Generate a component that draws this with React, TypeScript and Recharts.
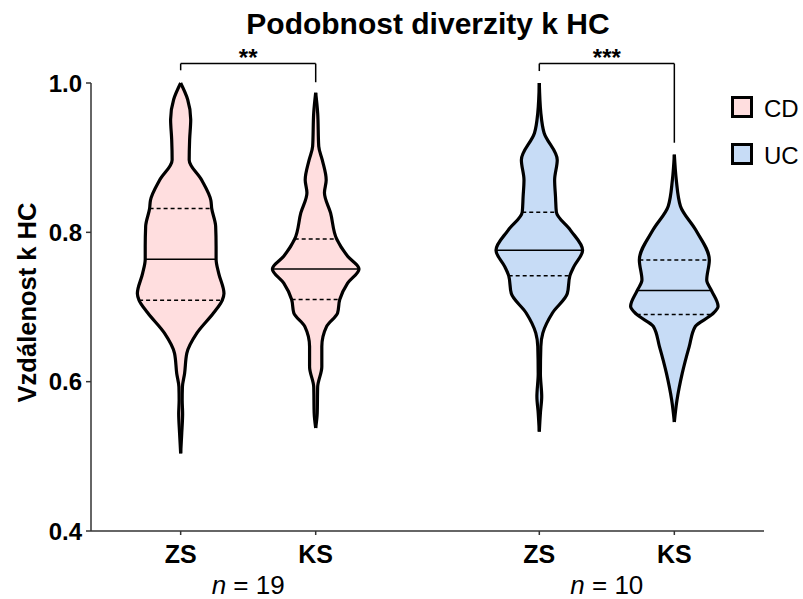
import React from 'react';
import { ComposedChart, Area, XAxis, YAxis, ReferenceLine, Legend } from 'recharts';

const FONT = '"Liberation Sans", Arial, Helvetica, sans-serif';

// Groups and categories
const GROUPS = ['CD', 'UC'];
const GROUP_N = [19, 10];
const CATEGORIES = ['ZS', 'KS', 'ZS', 'KS'];
const Y_TICKS = [0.4, 0.6, 0.8, 1.0];

// Violin outlines: distance to HC and relative density (1 = widest point)
const CD_ZS_Y = [1.0, 0.978, 0.951, 0.924, 0.897, 0.87, 0.843, 0.832, 0.808, 0.781, 0.764, 0.745, 0.718, 0.709, 0.692, 0.665, 0.638, 0.611, 0.593, 0.575, 0.557, 0.531, 0.504];
const CD_ZS_D = [0, 0.16, 0.23, 0.205, 0.195, 0.48, 0.69, 0.71, 0.8, 0.81, 0.81, 0.87, 0.99, 0.95, 0.75, 0.37, 0.14, 0.09, 0.04, 0.035, 0.045, 0.025, 0];

const CD_KS_Y = [0.987, 0.96, 0.915, 0.897, 0.87, 0.853, 0.826, 0.791, 0.768, 0.751, 0.732, 0.71, 0.692, 0.674, 0.647, 0.62, 0.593, 0.558, 0.538];
const CD_KS_D = [0, 0.045, 0.07, 0.15, 0.24, 0.2, 0.34, 0.48, 0.73, 0.99, 0.73, 0.55, 0.5, 0.25, 0.14, 0.14, 0.045, 0.035, 0];

const UC_ZS_Y = [1.0, 0.96, 0.933, 0.897, 0.87, 0.848, 0.827, 0.803, 0.776, 0.754, 0.742, 0.718, 0.692, 0.665, 0.647, 0.611, 0.58, 0.558, 0.533];
const UC_ZS_D = [0, 0.035, 0.11, 0.41, 0.35, 0.37, 0.39, 0.71, 0.99, 0.79, 0.7, 0.64, 0.3, 0.08, 0.035, 0.025, 0.055, 0.025, 0];

const UC_KS_Y = [0.904, 0.87, 0.835, 0.803, 0.763, 0.736, 0.722, 0.701, 0.69, 0.674, 0.647, 0.611, 0.575, 0.546];
const UC_KS_D = [0, 0.045, 0.14, 0.49, 0.8, 0.74, 0.85, 1.0, 0.86, 0.48, 0.34, 0.18, 0.06, 0];

// Quartiles [Q1, median, Q3]
const CD_ZS_Q = [0.709, 0.764, 0.832];
const CD_KS_Q = [0.71, 0.751, 0.791];
const UC_ZS_Q = [0.742, 0.776, 0.827];
const UC_KS_Q = [0.69, 0.722, 0.763];

// Significance brackets
const SIG_LABELS = ['**', '***'];
const SIG_TOP = [1.026, 1.026];
const SIG_ENDS = [[1.017, 1.001], [1.016, 0.92]];

const PINK = '#FFDEDF';
const BLUE = '#C7DCF6';
const GROUP_COLORS = [PINK, BLUE];

// layout of the category axis
const CATEGORY_POS = [1, 2, 3.656, 4.656];
const GROUP_POS = [1.5, 4.156];
const X_DOMAIN = [0.336, 5.32];
const HALF_WIDTH = 0.324;

const VIOLINS = [
  { pos: CATEGORY_POS[0], ys: CD_ZS_Y, dens: CD_ZS_D, q: CD_ZS_Q, fill: PINK },
  { pos: CATEGORY_POS[1], ys: CD_KS_Y, dens: CD_KS_D, q: CD_KS_Q, fill: PINK },
  { pos: CATEGORY_POS[2], ys: UC_ZS_Y, dens: UC_ZS_D, q: UC_ZS_Q, fill: BLUE },
  { pos: CATEGORY_POS[3], ys: UC_KS_Y, dens: UC_KS_D, q: UC_KS_Q, fill: BLUE },
];

const NTick = (props: any) => {
  const { x, y, payload } = props;
  const i = GROUP_POS.indexOf(payload.value);
  return (
    <text x={x} y={y + 24.5} textAnchor="middle" fontSize={26} fontFamily={FONT} fill="#000">
      <tspan fontStyle="italic">n</tspan> = {GROUP_N[i]}
    </text>
  );
};

const renderLegend = () => (
  <div style={{ fontFamily: FONT }}>
    {GROUPS.map((g, i) => (
      <div key={g} style={{ display: 'flex', alignItems: 'center', height: 22, marginBottom: 24.6 }}>
        <div style={{ width: 16, height: 16, border: '3px solid #000', background: GROUP_COLORS[i] }} />
        <span style={{ marginLeft: 11, fontSize: 24, color: '#000', position: 'relative', top: 2 }}>{g}</span>
      </div>
    ))}
  </div>
);

const renderYLabel = (props: any) => {
  const vb = props.viewBox;
  const cx = vb.x + 27;
  const cy = vb.y + vb.height / 2 - 4.5;
  return (
    <text
      x={cx}
      y={cy}
      transform={`rotate(-90, ${cx}, ${cy})`}
      textAnchor="middle"
      dominantBaseline="central"
      fontSize={25.5}
      fontWeight="bold"
      fontFamily={FONT}
      fill="#000"
    >
      Vzdálenost k HC
    </text>
  );
};

export default function App() {
  return (
    <div style={{ position: 'absolute', left: 0, top: 0, width: 803, height: 599, background: '#fff', fontFamily: FONT }}>
      <svg width={803} height={50} style={{ position: 'absolute', left: 0, top: 0 }}>
        <text x={428} y={33.5} textAnchor="middle" fontSize={30} fontWeight="bold" fontFamily={FONT} fill="#000">
          Podobnost diverzity k HC
        </text>
      </svg>
      <div style={{ position: 'absolute', left: 0, top: 0 }}>
        <ComposedChart
          width={803}
          height={599}
          layout="vertical"
          margin={{ top: 83, right: 39, bottom: 0, left: 0 }}
          style={{ fontFamily: FONT }}
        >
          <XAxis
            type="number"
            domain={X_DOMAIN}
            allowDataOverflow
            ticks={CATEGORY_POS}
            tickFormatter={(v: number) => CATEGORIES[CATEGORY_POS.indexOf(v)]}
            height={38}
            tickSize={4}
            tickMargin={10}
            stroke="#333"
            strokeWidth={1.5}
            tick={{ fontSize: 25, fontWeight: 'bold', fill: '#000', fontFamily: FONT }}
            interval={0}
          />
          <XAxis
            xAxisId="n"
            type="number"
            domain={X_DOMAIN}
            allowDataOverflow
            ticks={GROUP_POS}
            height={30}
            axisLine={false}
            tickLine={false}
            tickSize={0}
            tickMargin={0}
            tick={<NTick />}
            interval={0}
          />
          <YAxis
            type="number"
            dataKey="y"
            reversed
            domain={[0.4, 1.0]}
            ticks={Y_TICKS}
            tickFormatter={(v: number) => v.toFixed(1)}
            width={91}
            tickSize={5}
            tickMargin={4}
            stroke="#333"
            strokeWidth={1.5}
            tick={{ fontSize: 24, fontWeight: 'bold', fill: '#000', fontFamily: FONT }}
            interval={0}
            label={{ content: renderYLabel }}
          />
          {VIOLINS.map((v, i) => (
            <Area
              key={`violin-${i}`}
              data={v.ys.map((y, j) => ({ y, range: [v.pos - v.dens[j] * HALF_WIDTH, v.pos + v.dens[j] * HALF_WIDTH] }))}
              dataKey="range"
              type="monotone"
              stroke="#000"
              strokeWidth={3.2}
              fill={v.fill}
              fillOpacity={1}
              dot={false}
              activeDot={false}
              isAnimationActive={false}
            />
          ))}
          {VIOLINS.map((v, i) =>
            v.q.map((qv, k) => {
              const w = v.dens[v.ys.indexOf(qv)] * HALF_WIDTH;
              return (
                <ReferenceLine
                  key={`q-${i}-${k}`}
                  segment={[{ x: v.pos - w, y: qv }, { x: v.pos + w, y: qv }]}
                  stroke="#000"
                  strokeWidth={1.5}
                  strokeDasharray={k === 1 ? undefined : '4 3'}
                />
              );
            })
          )}
          {SIG_LABELS.map((lab, g) => {
            const x1 = CATEGORY_POS[g * 2];
            const x2 = CATEGORY_POS[g * 2 + 1];
            return [
              <ReferenceLine
                key={`b-top-${g}`}
                segment={[{ x: x1, y: SIG_TOP[g] }, { x: x2, y: SIG_TOP[g] }]}
                stroke="#000"
                strokeWidth={1.5}
                ifOverflow="visible"
                label={{ value: lab, position: 'top', offset: -2, fontSize: 24, fontWeight: 'bold', fill: '#000', fontFamily: FONT }}
              />,
              <ReferenceLine
                key={`b-l-${g}`}
                segment={[{ x: x1, y: SIG_TOP[g] }, { x: x1, y: SIG_ENDS[g][0] }]}
                stroke="#000"
                strokeWidth={1.5}
                ifOverflow="visible"
              />,
              <ReferenceLine
                key={`b-r-${g}`}
                segment={[{ x: x2, y: SIG_TOP[g] }, { x: x2, y: SIG_ENDS[g][1] }]}
                stroke="#000"
                strokeWidth={1.5}
                ifOverflow="visible"
              />,
            ];
          })}
          <Legend
            layout="vertical"
            align="center"
            verticalAlign="middle"
            content={renderLegend}
            wrapperStyle={{ left: 731, top: 96, width: 80, height: 'auto' }}
          />
        </ComposedChart>
      </div>
    </div>
  );
}
